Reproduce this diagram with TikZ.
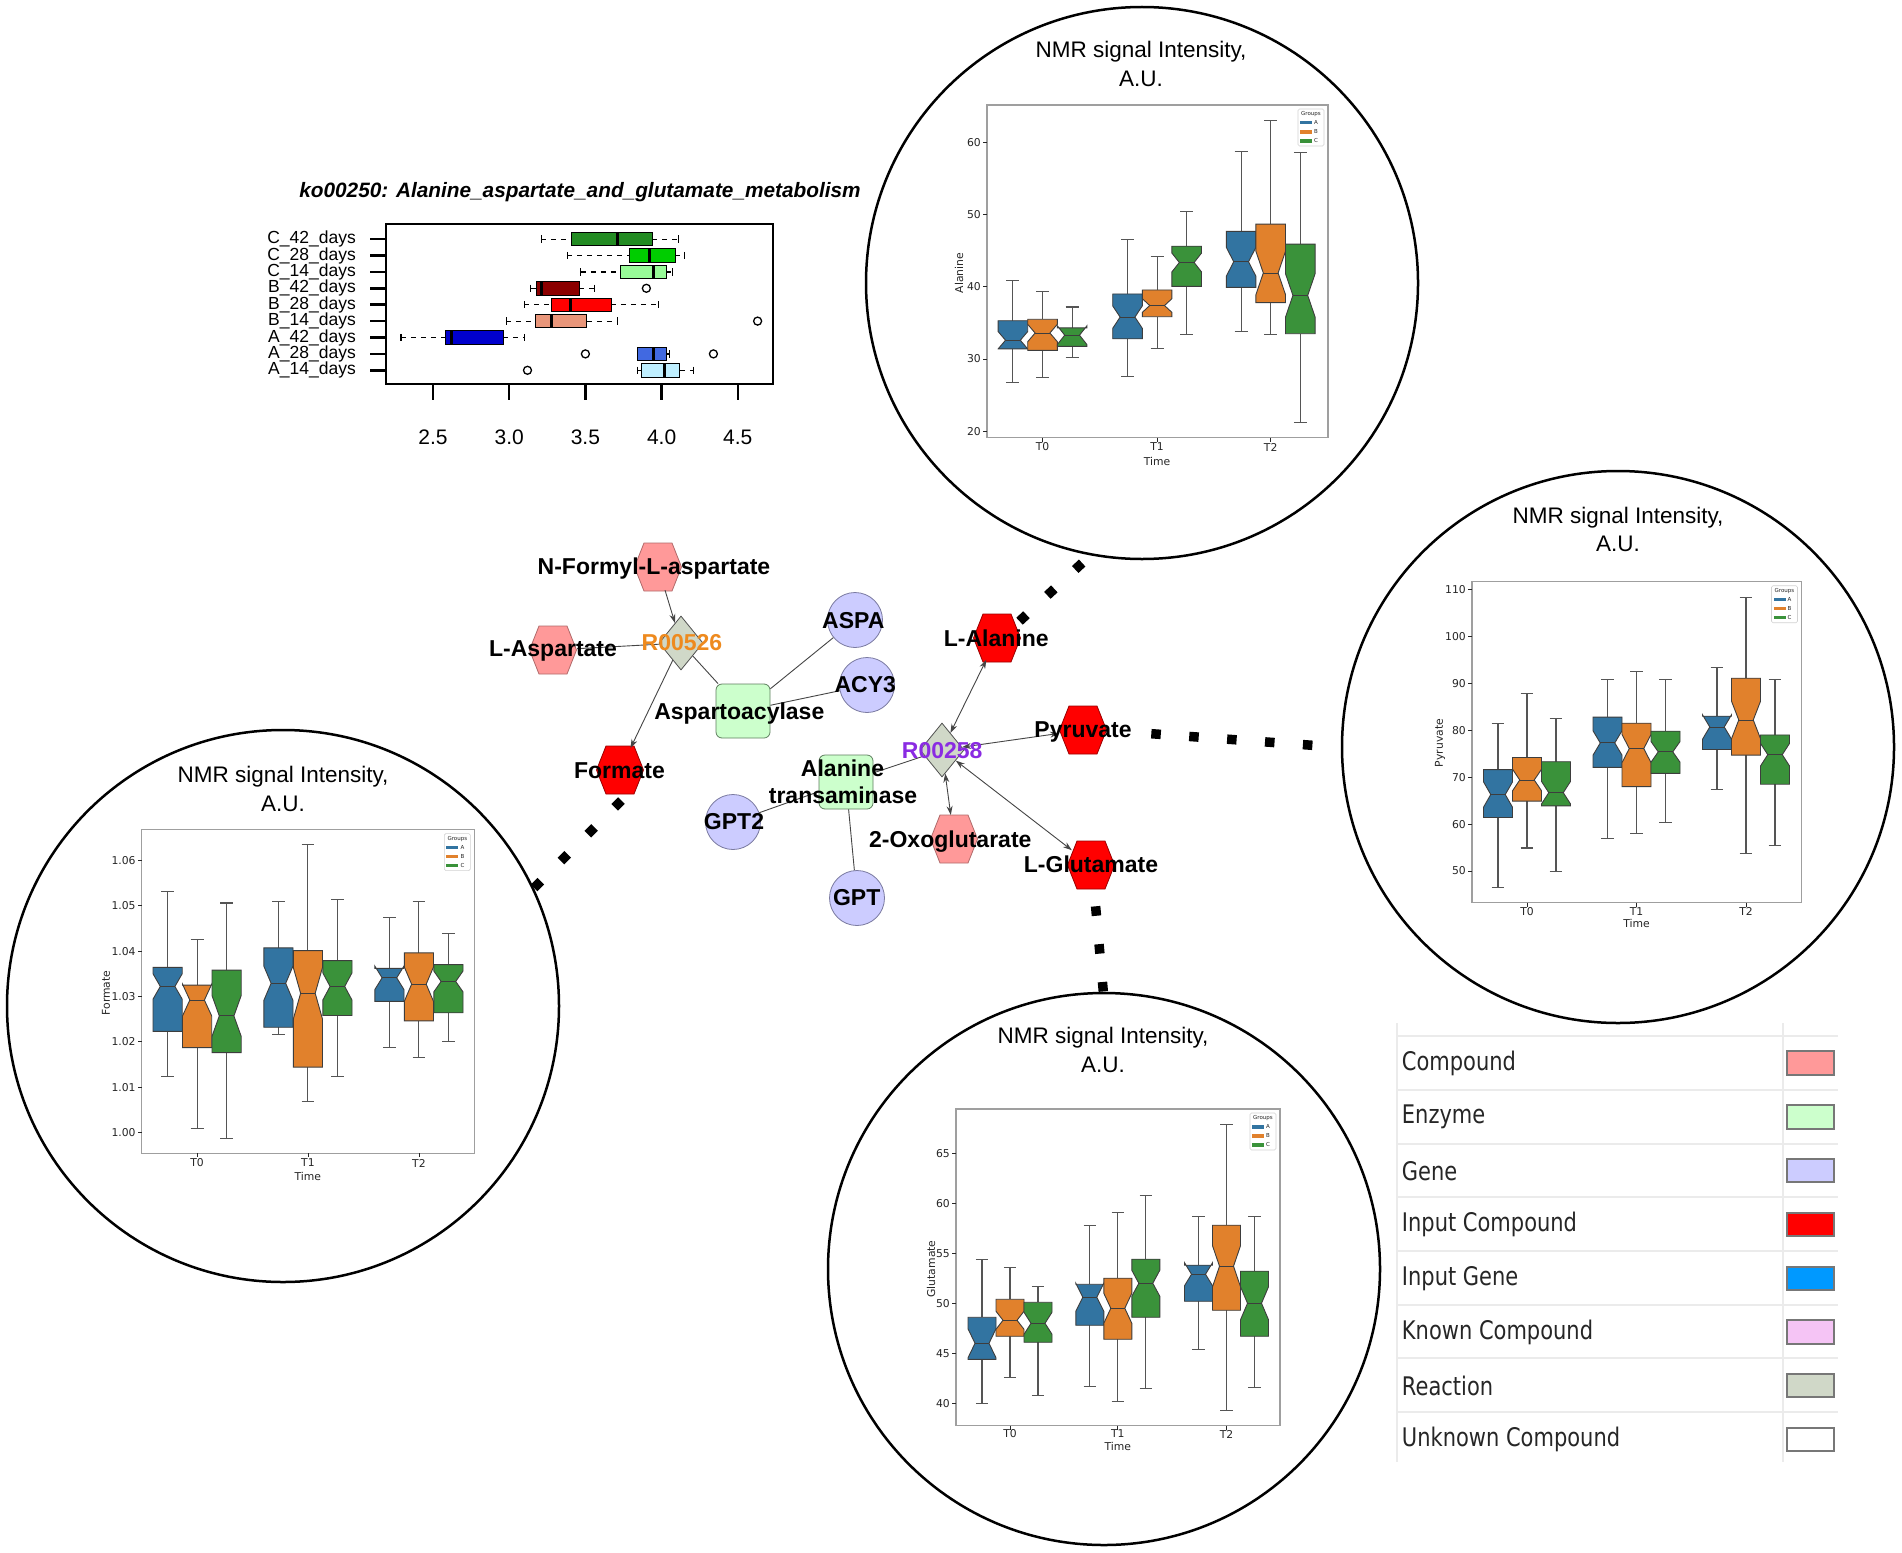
\documentclass[tikz,border=0pt]{standalone}
\usepackage{fontspec}
\setmainfont{Liberation Sans}
\newfontfamily\legfont{DejaVu Sans}
\usepackage{graphicx}
\usetikzlibrary{shapes.geometric,arrows.meta}

\definecolor{cmpd}{HTML}{FF9999}
\definecolor{cmpdE}{HTML}{B06A6A}
\definecolor{inp}{HTML}{FF0000}
\definecolor{inpE}{HTML}{990000}
\definecolor{gene}{HTML}{CCCCFF}
\definecolor{geneE}{HTML}{7A7AA0}
\definecolor{enz}{HTML}{CCFFCC}
\definecolor{enzE}{HTML}{5F7F5F}
\definecolor{rxn}{HTML}{D0D8C8}
\definecolor{rxnE}{HTML}{505050}
\definecolor{ingene}{HTML}{0099FF}
\definecolor{known}{HTML}{F5C4F5}
\definecolor{sbA}{HTML}{3274A1}
\definecolor{sbB}{HTML}{E1812C}
\definecolor{sbC}{HTML}{3A923A}
\definecolor{bedge}{HTML}{3D3D3D}
\definecolor{wgray}{HTML}{555555}
\definecolor{labgray}{HTML}{262626}
\definecolor{edgec}{HTML}{454545}
\definecolor{orangeR}{HTML}{EE8A1E}
\definecolor{purpleR}{HTML}{8A2BE2}
\definecolor{tabline}{HTML}{EBEBEB}
\definecolor{swE}{HTML}{777777}
\definecolor{cA14}{HTML}{BFEFFF}
\definecolor{cA28}{HTML}{4169E1}
\definecolor{cA42}{HTML}{0000CD}
\definecolor{cB14}{HTML}{E9967A}
\definecolor{cB28}{HTML}{FF0000}
\definecolor{cB42}{HTML}{8B0000}
\definecolor{cC14}{HTML}{98FB98}
\definecolor{cC28}{HTML}{00CD00}
\definecolor{cC42}{HTML}{228B22}

\newcommand{\fsz}[1]{\fontsize{#1}{#1}\selectfont}

\tikzset{
  lbl/.style={font=\fsz{23}\bfseries, inner sep=0pt, anchor=base},
  ttl/.style={font=\fsz{22.5}, inner sep=0pt, anchor=base},
  ln/.style={draw=edgec, line width=0.9pt},
  arr/.style={ln, -{Stealth[length=9pt,width=6pt]}},
  darr/.style={ln, {Stealth[length=9pt,width=6pt]}-{Stealth[length=9pt,width=6pt]}},
  dotconn/.style={draw=black, line width=9.5pt, dash pattern=on 9.5pt off 28.5pt},
  genenode/.style={circle, draw=geneE, fill=gene, line width=0.8pt, minimum size=55pt, inner sep=0pt},
  enznode/.style={rectangle, rounded corners=6pt, draw=enzE, fill=enz, line width=0.8pt, minimum size=54pt, inner sep=0pt},
  rxnnode/.style={diamond, draw=rxnE, fill=rxn, line width=0.8pt, minimum width=44pt, minimum height=54pt, inner sep=0pt},
  bigcirc/.style={circle, draw=black, line width=2.5pt, minimum size=552pt, inner sep=0pt},
  pframe/.style={draw=gray!75, line width=1.2pt},
  legbox/.style={draw=gray!35, fill=white, rounded corners=1.5pt, line width=0.6pt},
  legtiny/.style={font=\legfont\fsz{5.5}, text=labgray, inner sep=0pt},
  tk/.style={draw=labgray, line width=0.8pt},
  tlab/.style={font=\legfont\fsz{10.8}, text=labgray, inner sep=0pt, anchor=east},
  tlab2/.style={font=\legfont\fsz{10.8}, text=labgray, inner sep=0pt},
  whisk/.style={draw=wgray, line width=1.1pt},
  hwhisk/.style={draw=black, line width=1.2pt, dash pattern=on 5pt off 5pt},
  hcap/.style={draw=black, line width=1.2pt},
  outl/.style={draw=black, line width=1.3pt},
  rowlab/.style={font=\fsz{17.5}, inner sep=0pt, anchor=east},
  xlab/.style={font=\fsz{21}, inner sep=0pt},
  tabln/.style={draw=tabline, line width=2pt},
  legrow/.style={font=\legfont\fsz{21}, text=labgray, inner sep=0pt, anchor=west},
  swatch/.style={draw=swE, line width=2pt}
}

% hexagon node: name, x, y, fill, border
\newcommand{\hexn}[5]{%
  \filldraw[fill=#4, draw=#5, line width=0.8pt] (#2-23.5,#3) -- (#2-14,#3-24) -- (#2+14,#3-24) -- (#2+23.5,#3) -- (#2+14,#3+24) -- (#2-14,#3+24) -- cycle;
  \node[circle, minimum size=48pt, inner sep=0pt] (#1) at (#2,#3) {};}

% notched box: x, q1, med, q3, wlo, whi, notch, colour
\newcommand{\nbox}[8]{%
  \draw[whisk] (#1,#4) -- (#1,#6);
  \draw[whisk] (#1,#2) -- (#1,#5);
  \draw[whisk] (#1-\bcw,#6) -- (#1+\bcw,#6);
  \draw[whisk] (#1-\bcw,#5) -- (#1+\bcw,#5);
  \filldraw[fill=#8, draw=bedge, line width=0.9pt]
    (#1-\bhw,#2) -- (#1+\bhw,#2) -- (#1+\bhw,#3-#7) -- (#1+0.5*\bhw,#3)
    -- (#1+\bhw,#3+#7) -- (#1+\bhw,#4) -- (#1-\bhw,#4) -- (#1-\bhw,#3+#7)
    -- (#1-0.5*\bhw,#3) -- (#1-\bhw,#3-#7) -- cycle;
  \draw[draw=bedge, line width=0.9pt] (#1-0.5*\bhw,#3) -- (#1+0.5*\bhw,#3);}

% frame + legend of a small plot: L T R B
\newcommand{\plotframe}[4]{%
  \draw[pframe] (#1,#2) rectangle (#3,#4);
  \draw[legbox] (#3-30,#2+4) rectangle (#3-4,#2+41);
  \node[legtiny] at (#3-17,#2+9.5) {Groups};
  \fill[sbA] (#3-28,#2+16) rectangle (#3-16,#2+19.5);
  \fill[sbB] (#3-28,#2+25) rectangle (#3-16,#2+28.5);
  \fill[sbC] (#3-28,#2+34) rectangle (#3-16,#2+37.5);
  \node[legtiny,anchor=west] at (#3-14,#2+17.75) {A};
  \node[legtiny,anchor=west] at (#3-14,#2+26.75) {B};
  \node[legtiny,anchor=west] at (#3-14,#2+35.75) {C};}

% horizontal box of the top plot: y, wlo, q1, med, q3, whi, colour
\newcommand{\hbx}[7]{%
  \draw[hwhisk] (#2,#1) -- (#3,#1);
  \draw[hwhisk] (#5,#1) -- (#6,#1);
  \draw[hcap] (#2,#1-3.7) -- (#2,#1+3.7);
  \draw[hcap] (#6,#1-3.7) -- (#6,#1+3.7);
  \filldraw[fill=#7, draw=black, line width=1pt] (#3,#1-6.7) rectangle (#5,#1+6.7);
  \draw[line width=3pt] (#4,#1-6.7) -- (#4,#1+6.7);}

\begin{document}
\begin{tikzpicture}[x=1pt,y=-1pt]
\useasboundingbox (0,0) rectangle (1902,1552);
\fill[white] (0,0) rectangle (1902,1552);

% ---------------- top horizontal boxplot ----------------
\node[font=\fsz{20.8}\bfseries\itshape, inner sep=0pt] (kotitle) at (580,192) {ko00250: Alanine\_aspartate\_and\_glutamate\_metabolism};
\begin{scope}[x=152.4pt, shift={(52pt,0pt)}]
  \hbx{239.1}{3.21}{3.41}{3.71}{3.94}{4.11}{cC42}
  \hbx{255.5}{3.38}{3.79}{3.92}{4.09}{4.15}{cC28}
  \hbx{271.9}{3.47}{3.73}{3.95}{4.03}{4.07}{cC14}
  \hbx{288.3}{3.14}{3.18}{3.21}{3.46}{3.56}{cB42}
  \hbx{304.7}{3.10}{3.28}{3.40}{3.67}{3.98}{cB28}
  \hbx{321.1}{2.98}{3.17}{3.28}{3.51}{3.71}{cB14}
  \hbx{337.5}{2.29}{2.58}{2.62}{2.96}{3.10}{cA42}
  \hbx{353.9}{3.84}{3.84}{3.95}{4.03}{4.05}{cA28}
  \hbx{370.3}{3.84}{3.87}{4.02}{4.12}{4.21}{cA14}
  \draw[outl] (3.90,288.3) circle[radius=4pt];
  \draw[outl] (4.63,321.1) circle[radius=4pt];
  \draw[outl] (3.50,353.9) circle[radius=4pt];
  \draw[outl] (4.34,353.9) circle[radius=4pt];
  \draw[outl] (3.12,370.3) circle[radius=4pt];
  \foreach \v in {2.5,3.0,3.5,4.0,4.5} {
    \draw[line width=2.5pt] (\v,384) -- (\v,400);
    \node[xlab] at (\v,437) {\v};}
\end{scope}
\draw[line width=2.5pt] (386,224) rectangle (773,384);
\foreach \y/\t in {239.1/C\_42\_days,255.5/C\_28\_days,271.9/C\_14\_days,288.3/B\_42\_days,304.7/B\_28\_days,321.1/B\_14\_days,337.5/A\_42\_days,353.9/A\_28\_days,370.3/A\_14\_days} {
  \draw[line width=2.5pt] (370,\y) -- (386,\y);
  \node[rowlab] at (356,\y) {\t};}

% ---------------- big circles ----------------
\node[bigcirc] (calan) at (1142,283) {};
\node[bigcirc] (cpyr) at (1618,747) {};
\node[bigcirc] (cform) at (283,1006) {};
\node[bigcirc] (cglu) at (1104,1269) {};

\node[ttl] (tal1) at (1141,57.9) {NMR signal Intensity,};
\node[ttl] (tal2) at (1141,86.4) {A.U.};
\node[ttl] (tpy1) at (1618,523.8) {NMR signal Intensity,};
\node[ttl] (tpy2) at (1618,551.7) {A.U.};
\node[ttl] (tfo1) at (283,782.5) {NMR signal Intensity,};
\node[ttl] (tfo2) at (283,811.1) {A.U.};
\node[ttl] (tgl1) at (1103,1043.8) {NMR signal Intensity,};
\node[ttl] (tgl2) at (1103,1072.4) {A.U.};

% ---------------- Alanine plot ----------------
\plotframe{987}{105}{1328}{437.5}
\def\bhw{14.8}\def\bcw{6.5}
\begin{scope}[y=7.232pt, shift={(0pt,-576pt)}]
  \foreach \v in {20,30,40,50,60} {\draw[tk] (987,\v) -- (983,\v); \node[tlab] at (981,\v) {\v};}
  \nbox{1012.9}{31.4}{32.6}{35.3}{26.7}{40.9}{1.2}{sbA}
  \nbox{1042.5}{31.2}{33.6}{35.5}{27.5}{39.4}{1.2}{sbB}
  \nbox{1072.1}{31.75}{33.3}{34.3}{30.2}{37.2}{1.3}{sbC}
  \nbox{1127.5}{32.8}{35.8}{39.0}{27.6}{46.5}{1.55}{sbA}
  \nbox{1157.1}{35.85}{37.4}{39.55}{31.5}{44.2}{0.95}{sbB}
  \nbox{1186.7}{40.05}{43.35}{45.6}{33.4}{50.4}{1.3}{sbC}
  \nbox{1241.1}{39.9}{43.45}{47.65}{33.8}{58.7}{2.0}{sbA}
  \nbox{1270.7}{37.8}{41.9}{48.65}{33.4}{63.0}{3.0}{sbB}
  \nbox{1300.3}{33.5}{38.8}{45.9}{21.2}{58.6}{3.0}{sbC}
\end{scope}
\foreach \t/\l in {1042.5/T0,1157.1/T1,1270.7/T2} {\draw[tk] (\t,437.5) -- (\t,441.5); \node[tlab2] at (\t,447) {\l};}
\node[tlab2] (alx) at (1157.1,461) {Time};
\node[tlab2, rotate=90] (aly) at (959,273) {Alanine};

% ---------------- Pyruvate plot ----------------
\plotframe{1472}{581.7}{1801.5}{902.5}
\def\bhw{14.5}\def\bcw{6.3}
\begin{scope}[y=4.691pt, shift={(0pt,-1105.55pt)}]
  \foreach \v in {50,60,70,80,90,100,110} {\draw[tk] (1472,\v) -- (1468,\v); \node[tlab] at (1466,\v) {\v};}
  \nbox{1498}{61.4}{66.3}{71.6}{46.5}{81.4}{2.7}{sbA}
  \nbox{1527}{64.9}{69.4}{74.2}{54.9}{87.9}{2.3}{sbB}
  \nbox{1556}{63.9}{66.7}{73.3}{49.8}{82.5}{2.4}{sbC}
  \nbox{1607.5}{72.1}{77.3}{82.8}{56.9}{90.9}{2.6}{sbA}
  \nbox{1636.5}{68.0}{76.1}{81.5}{58.0}{92.5}{3.0}{sbB}
  \nbox{1665.5}{70.8}{75.4}{79.8}{60.3}{90.9}{2.2}{sbC}
  \nbox{1717}{75.9}{80.7}{83.0}{67.3}{93.3}{2.6}{sbA}
  \nbox{1746}{74.7}{82.2}{91.1}{53.7}{108.4}{4.0}{sbB}
  \nbox{1775}{68.5}{74.8}{79.0}{55.4}{90.9}{2.4}{sbC}
\end{scope}
\foreach \t/\l in {1527/T0,1636.5/T1,1746/T2} {\draw[tk] (\t,902.5) -- (\t,906.5); \node[tlab2] at (\t,911.5) {\l};}
\node[tlab2] (pyx) at (1636.5,923.5) {Time};
\node[tlab2, rotate=90] (pyy) at (1440,743) {Pyruvate};

% ---------------- Formate plot ----------------
\plotframe{141.8}{829.6}{474.3}{1153.2}
\def\bhw{14.6}\def\bcw{6.4}
\begin{scope}[y=4.536pt, shift={(0pt,-1132.5pt)}]
  \foreach \v/\l in {0/1.00,10/1.01,20/1.02,30/1.03,40/1.04,50/1.05,60/1.06} {\draw[tk] (141.8,\v) -- (137.8,\v); \node[tlab] at (135.8,\v) {\l};}
  \nbox{167.6}{22.3}{32.2}{36.4}{12.4}{53.1}{2.8}{sbA}
  \nbox{197.1}{18.7}{29.2}{32.5}{0.8}{42.5}{3.5}{sbB}
  \nbox{226.6}{17.6}{25.7}{35.8}{-1.4}{50.6}{4.5}{sbC}
  \nbox{278.4}{23.2}{32.9}{40.7}{21.7}{51.0}{3.8}{sbA}
  \nbox{307.9}{14.4}{30.7}{40.1}{6.9}{63.5}{5.7}{sbB}
  \nbox{337.4}{25.8}{32.2}{37.9}{12.4}{51.3}{3.0}{sbC}
  \nbox{389.4}{28.9}{34.1}{36.2}{18.8}{47.5}{2.6}{sbA}
  \nbox{418.9}{24.6}{32.7}{39.6}{16.5}{51.0}{3.8}{sbB}
  \nbox{448.4}{26.4}{33.3}{37.0}{20.1}{43.9}{2.3}{sbC}
\end{scope}
\foreach \t/\l in {197.1/T0,307.9/T1,418.9/T2} {\draw[tk] (\t,1153.2) -- (\t,1157.2); \node[tlab2] at (\t,1163) {\l};}
\node[tlab2] (fox) at (307.9,1176) {Time};
\node[tlab2, rotate=90] (foy) at (106,993) {Formate};

% ---------------- Glutamate plot ----------------
\plotframe{956}{1109}{1280}{1425.5}
\def\bhw{14}\def\bcw{6.2}
\begin{scope}[y=10.007pt, shift={(0pt,-1803.6pt)}]
  \foreach \v in {40,45,50,55,60,65} {\draw[tk] (956,\v) -- (952,\v); \node[tlab] at (950,\v) {\v};}
  \nbox{982}{44.4}{46.0}{48.6}{40.0}{54.4}{1.45}{sbA}
  \nbox{1010}{46.7}{48.3}{50.4}{42.6}{53.6}{0.9}{sbB}
  \nbox{1038}{46.1}{48.0}{50.1}{40.8}{51.7}{1.1}{sbC}
  \nbox{1089.8}{47.8}{50.6}{51.9}{41.7}{57.8}{1.4}{sbA}
  \nbox{1117.8}{46.4}{49.5}{52.5}{40.2}{59.1}{1.5}{sbB}
  \nbox{1145.8}{48.6}{52.0}{54.4}{41.5}{60.8}{1.3}{sbC}
  \nbox{1198.5}{50.2}{52.9}{53.8}{45.4}{58.7}{1.15}{sbA}
  \nbox{1226.5}{49.3}{53.7}{57.8}{39.3}{67.9}{2.05}{sbB}
  \nbox{1254.5}{46.7}{50.0}{53.2}{41.6}{58.7}{1.65}{sbC}
\end{scope}
\foreach \t/\l in {1010/T0,1117.8/T1,1226.5/T2} {\draw[tk] (\t,1425.5) -- (\t,1429.5); \node[tlab2] at (\t,1434) {\l};}
\node[tlab2] (glx) at (1117.8,1446) {Time};
\node[tlab2, rotate=90] (gly) at (931,1269) {Glutamate};

% ---------------- network ----------------
\hexn{nfa}{658}{567}{cmpd}{cmpdE}
\hexn{lasp}{553}{650}{cmpd}{cmpdE}
\hexn{form}{620}{770}{inp}{inpE}
\hexn{lala}{997}{638}{inp}{inpE}
\hexn{pyr}{1083}{730}{inp}{inpE}
\hexn{oxo}{954}{839}{cmpd}{cmpdE}
\hexn{lglu}{1091}{865}{inp}{inpE}
\node[rxnnode] (r526) at (681,643) {};
\node[rxnnode] (r258) at (942,750) {};
\node[enznode] (aspac) at (743,711) {};
\node[enznode] (alat) at (846,782) {};
\node[genenode] (aspa) at (855,620) {};
\node[genenode] (acy3) at (867,685) {};
\node[genenode] (gpt2) at (733,822) {};
\node[genenode] (gpt) at (857,898) {};

\draw[arr] (nfa) -- (r526);
\draw[ln] (lasp) -- (r526);
\draw[arr] (r526) -- (form);
\draw[ln] (r526) -- (aspac);
\draw[ln] (aspac) -- (aspa);
\draw[ln] (aspac) -- (acy3);
\draw[ln] (alat) -- (r258);
\draw[ln] (alat) -- (gpt2);
\draw[ln] (alat) -- (gpt);
\draw[darr] (r258) -- (lala);
\draw[darr] (r258) -- (pyr);
\draw[darr] (r258) -- (oxo);
\draw[darr] (r258) -- (lglu);

% dotted links to the plots
\coordinate (fdA) at (621.4,800.6);  \coordinate (fdB) at (534.1,887.9);
\coordinate (adA) at (1019.5,621.2); \coordinate (adB) at (1082.2,563.0);
\coordinate (pdA) at (1151.3,733.7); \coordinate (pdB) at (1312.4,745.3);
\coordinate (gdA) at (1095.6,906.3); \coordinate (gdB) at (1103.3,991.5);
\draw[dotconn] (fdA) -- (fdB);
\draw[dotconn] (adA) -- (adB);
\draw[dotconn] (pdA) -- (pdB);
\draw[dotconn] (gdA) -- (gdB);

% labels
\node[lbl] (nfa-t) at (654,574.3) {N-Formyl-L-aspartate};
\node[lbl] (lasp-t) at (553,656.7) {L-Aspartate};
\node[lbl, text=orangeR] (r526-t) at (682,650.7) {R00526};
\node[lbl] (aspac-t) at (739.3,719) {Aspartoacylase};
\node[lbl] (aspa-t) at (853.3,628.3) {ASPA};
\node[lbl] (acy3-t) at (865.3,692.7) {ACY3};
\node[lbl] (form-t) at (619.5,778.3) {Formate};
\node[lbl] (alat-t1) at (842.5,776) {Alanine};
\node[lbl] (alat-t2) at (843,803.3) {transaminase};
\node[lbl] (gpt2-t) at (734,829) {GPT2};
\node[lbl] (gpt-t) at (856.7,905.7) {GPT};
\node[lbl] (lala-t) at (996.3,646.7) {L-Alanine};
\node[lbl] (pyr-t) at (1083,737.3) {Pyruvate};
\node[lbl, text=purpleR] (r258-t) at (942.2,758.3) {R00258};
\node[lbl] (oxo-t) at (950.3,847.3) {2-Oxoglutarate};
\node[lbl] (lglu-t) at (1091,872.7) {L-Glutamate};

% ---------------- legend table ----------------
\foreach \y in {1036,1090,1144,1197.3,1251,1305,1358.3,1412.3} {\draw[tabln] (1396.7,\y) -- (1838.3,\y);}
\draw[tabln] (1396.7,1023) -- (1396.7,1462);
\draw[tabln] (1783.3,1023) -- (1783.3,1462);
\foreach \y/\t/\c [count=\i] in {1063/Compound/cmpd,1117/Enzyme/enz,1170.7/Gene/gene,1224.3/Input Compound/inp,1278.3/Input Gene/ingene,1332/Known Compound/known,1385.7/Reaction/rxn,1439.3/Unknown Compound/white} {
  \node[legrow] (leg\i) at (1401.7,\y) {\scalebox{1}[1.22]{\t}};
  \draw[swatch, fill=\c] (1787.3,\y-11.7) rectangle (1834,\y+11.7);}

\end{tikzpicture}
\end{document}
